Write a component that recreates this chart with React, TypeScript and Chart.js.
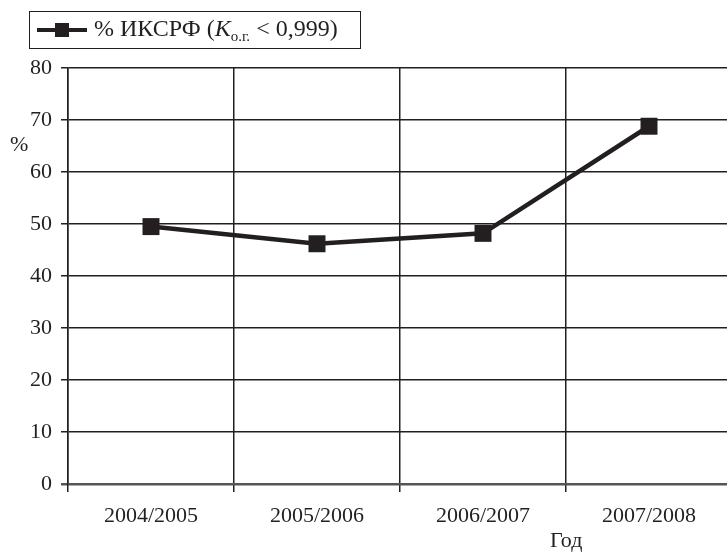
import React, { useEffect, useRef } from "react";
import { Chart, registerables } from "chart.js";

Chart.register(...registerables);

const categories = ["2004/2005", "2005/2006", "2006/2007", "2007/2008"];
const values = [49.5, 46.2, 48.2, 68.8];
const yTicks = [0, 10, 20, 30, 40, 50, 60, 70, 80];
const seriesLabel = "% ИКСРФ";

const FONT = "'Liberation Serif', 'DejaVu Serif', serif";

export default function App() {
  const ref = useRef<HTMLCanvasElement | null>(null);

  useEffect(() => {
    if (!ref.current) return;
    const chart = new Chart(ref.current, {
      type: "line",
      data: {
        labels: categories,
        datasets: [
          {
            label: seriesLabel,
            data: values,
            borderColor: "#231f20",
            backgroundColor: "#231f20",
            borderWidth: 4.5,
            pointStyle: "rect",
            pointRadius: 12,
            pointBorderWidth: 0,
            pointBackgroundColor: "#231f20",
            tension: 0,
          },
        ],
      },
      options: {
        responsive: false,
        animation: false,
        layout: { padding: { top: 68, right: 8, bottom: 0, left: 0 } },
        plugins: {
          legend: { display: false },
          tooltip: { enabled: false },
        },
        scales: {
          x: {
            type: "category",
            offset: true,
            grid: {
              offset: true,
              color: "#231f20",
              lineWidth: 1.5,
              tickLength: 8,
              drawTicks: true,
            },
            border: { display: false },
            ticks: {
              color: "#231f20",
              font: { family: FONT, size: 22 },
              padding: 11,
              maxRotation: 0,
            },
            afterFit: (s: any) => {
              s.height = 70;
            },
          },
          y: {
            min: 0,
            max: 80,
            afterBuildTicks: (s: any) => {
              s.ticks = yTicks.map((v) => ({ value: v }));
            },
            grid: {
              color: (ctx: any) => (ctx.tick && ctx.tick.value === 0 ? "#555" : "#231f20"),
              lineWidth: (ctx: any) => (ctx.tick && ctx.tick.value === 0 ? 2.5 : 1.5),
              tickLength: 7,
            },
            border: { display: true, color: "#231f20", width: 1.5 },
            ticks: {
              color: "#231f20",
              font: { family: FONT, size: 22 },
              padding: 9,
            },
            afterFit: (s: any) => {
              s.width = 68;
            },
          },
        },
      },
    });
    return () => chart.destroy();
  }, []);

  return (
    <div
      style={{
        position: "fixed",
        left: 0,
        top: 0,
        width: 727,
        height: 554,
        overflow: "hidden",
        background: "#fff",
        fontFamily: FONT,
        color: "#231f20",
      }}
    >
      <canvas ref={ref} width={744} height={554} style={{ display: "block" }} />
      <div
        style={{
          position: "absolute",
          left: 29,
          top: 11,
          width: 332,
          height: 38,
          border: "1.5px solid #231f20",
          boxSizing: "border-box",
          display: "flex",
          alignItems: "center",
          fontSize: 24,
          whiteSpace: "nowrap",
        }}
      >
        <span style={{ position: "relative", display: "inline-block", width: 50, height: 20, marginLeft: 7, marginRight: 7 }}>
          <span style={{ position: "absolute", left: 0, top: 8, width: 50, height: 4, background: "#231f20" }} />
          <span style={{ position: "absolute", left: 18, top: 3, width: 14, height: 14, background: "#231f20" }} />
        </span>
        <span>
          {seriesLabel} (<i>K</i>
          <sub style={{ fontSize: 15, verticalAlign: "-5px" }}>о.г.</sub> &lt; 0,999)
        </span>
      </div>
      <div style={{ position: "absolute", left: 10, top: 131, fontSize: 22 }}>%</div>
      <div style={{ position: "absolute", left: 550, top: 527, fontSize: 22 }}>Год</div>
    </div>
  );
}
